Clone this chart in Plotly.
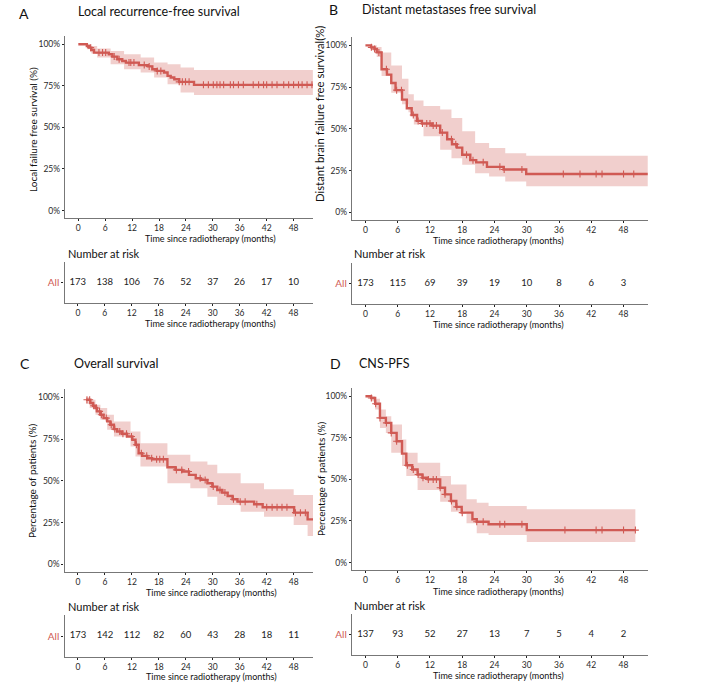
import numpy as np
import plotly.graph_objects as go

W, H = 716, 685
RED = '#D05A54'
BAND = 'rgba(214,110,104,0.33)'
FONT = 'Lato'

# ---------------- data ----------------
# Panel A: Local recurrence-free survival
times_A = [0, 1.9, 2.4, 2.9, 3.5, 6.8, 7.6, 8.7, 9.8, 10.6, 13.5, 15.5, 16.5, 17.5, 19.1, 19.9, 20.6, 21.4, 22.5, 25.8]
surv_A = [100, 99, 98, 96.6, 95, 94, 92.6, 91, 90, 89, 87.5, 86.7, 85, 84, 83, 81, 80, 79, 77.4, 75.6]
band_t_A = [0, 1.9, 2.9, 4.2, 7.2, 10.2, 13.9, 16.9, 19.9, 22.8, 25.8]
upper_A = [100, 100, 99, 97.5, 96, 94, 92, 89, 88, 86, 84.5]
lower_A = [100, 97, 94.5, 92, 88, 85, 83, 80, 76, 71, 69.5]
end_A = 52.3
cens_A = [2.75, 4.6, 5.4, 6.1, 8.0, 9.1, 11.3, 11.7, 12.4, 14.7, 15.8, 17.6, 18.4, 22.5, 23.2, 23.9, 24.7,
          27.9, 29.0, 30.1, 30.9, 31.6, 32.4, 33.9, 34.6, 35.7, 36.8, 39.0, 40.2, 41.3, 42.0, 43.2, 44.3,
          45.8, 46.9, 48.0, 49.1, 49.9, 51.0, 52.1]

# Panel B: Distant metastases free survival
times_B = [0, 1.05, 1.7, 2.1, 3.0, 4.0, 4.8, 5.6, 6.8, 7.7, 8.6, 9.6, 10.5, 12.4, 13.9, 15.2, 16.1, 17.0, 18.0, 19.5, 20.6, 22.6, 25.7, 29.9]
surv_B = [100, 98.8, 97.8, 95.8, 85.7, 82.5, 77.5, 73.2, 67.5, 62.4, 58.3, 54.8, 53.2, 52, 47.8, 43.8, 40.8, 38.8, 34.5, 31.3, 30, 27.3, 25.7, 23]
band_t_B = [0, 1.05, 2.1, 3.0, 4.8, 6.8, 8.0, 9.0, 10.8, 13.9, 16.0, 18.0, 20.4, 23.0, 26.0, 29.9]
upper_B = [100, 100, 99, 95.8, 88, 80, 70.7, 67, 63.7, 61.6, 56.6, 48.6, 41.6, 38.6, 35.5, 34]
lower_B = [100, 97, 93, 81.7, 71.7, 64.7, 60, 52.6, 45.6, 37.6, 32.5, 28.5, 23.5, 21.5, 18.5, 15.7]
end_B = 52.5
cens_B = [1.1, 1.7, 2.5, 3.9, 5.8, 6.7, 8.9, 9.8, 10.6, 11.4, 12.0, 12.6, 13.2, 14.3, 16.0, 16.8, 18.8,
          20.0, 21.9, 25.0, 25.8, 29.1, 36.8, 39.9, 42.9, 44.0, 48.0, 49.9]

# Panel C: Overall survival
times_C = [1.8, 2.75, 3.35, 3.9, 4.2, 5.0, 5.7, 6.5, 7.2, 8.0, 8.7, 9.8, 10.9, 12.1, 12.8, 13.5, 14.3, 15.4,
           16.5, 19.9, 21.7, 23.2, 24.7, 26.2, 27.3, 28.8, 29.9, 31.0, 32.1, 33.3, 34.4, 35.5, 39.2, 41.1, 48.1, 51.1]
surv_C = [98.6, 96.6, 95, 93.6, 91.6, 89.6, 87.6, 85.6, 83.6, 81, 79.6, 78.2, 76.6, 74.6, 71.6, 66.6, 65, 63.6,
          63, 58.2, 56.6, 55.6, 53.6, 51.6, 50.6, 48.6, 46.6, 44.6, 43, 41, 39, 37.6, 36, 34.2, 31, 27]
band_t_C = [1.8, 2.6, 3.9, 5.0, 6.5, 8.0, 11.7, 12.8, 13.9, 19.9, 25.0, 28.8, 31.0, 36.2, 41.4, 48.0, 51.1]
upper_C = [100, 98.6, 95.6, 93.6, 89.6, 85.6, 79.6, 79.6, 72.6, 65.6, 61.6, 59.6, 54.6, 48.6, 45, 41.6, 41.6]
lower_C = [96, 93.6, 89.6, 86.6, 80.6, 76.6, 70.6, 64.6, 58.6, 48.6, 45.6, 40.6, 35.6, 31.6, 28.6, 23.6, 17]
end_C = 52.3
cens_C = [2.0, 2.6, 3.5, 4.1, 4.8, 5.2, 6.3, 7.4, 8.2, 9.3, 10.0, 10.8, 11.9, 13.0, 14.1, 15.3, 16.4, 17.5,
          18.2, 19.0, 21.9, 23.1, 24.6, 27.2, 28.3, 30.1, 31.6, 32.7, 34.6, 36.1, 37.2, 39.8, 42.0, 43.2,
          44.3, 45.4, 46.5, 48.4, 49.5, 50.6]

# Panel D: CNS-PFS
times_D = [0, 1.05, 1.8, 2.7, 3.8, 4.8, 5.8, 6.8, 7.6, 8.7, 9.7, 10.6, 11.6, 13.9, 14.8, 15.9, 16.9, 17.9, 19.9, 20.7, 22.9, 30.0]
surv_D = [100, 99, 95.5, 87, 84, 78, 73, 65.5, 58.5, 56, 53, 51, 50, 45, 41, 37, 33.5, 30, 26, 24.5, 23, 19.5]
band_t_D = [0, 1.05, 1.8, 2.7, 3.8, 4.8, 6.8, 7.6, 9.7, 13.9, 15.9, 18.8, 20.7, 22.9, 30.0]
upper_D = [100, 100, 98.6, 92, 88, 83, 74, 66, 60, 52, 47, 38, 36, 34, 32]
lower_D = [100, 97, 92, 81, 78, 66, 58, 52, 43.6, 36.6, 30.6, 23.6, 17.6, 16.6, 12.3]
end_D = 50.2
cens_D = [1.1, 1.9, 2.7, 3.9, 4.8, 5.8, 7.8, 8.9, 9.8, 10.7, 11.7, 12.6, 13.2, 13.9, 14.8, 16.0, 17.0,
          18.0, 20.7, 21.9, 25.0, 25.9, 29.1, 37.1, 42.9, 44.0, 48.0, 50.2]

# Number at risk
risk_times = [0, 6, 12, 18, 24, 30, 36, 42, 48]
risk_A = [173, 138, 106, 76, 52, 37, 26, 17, 10]
risk_B = [173, 115, 69, 39, 19, 10, 8, 6, 3]
risk_C = [173, 142, 112, 82, 60, 43, 28, 18, 11]
risk_D = [137, 93, 52, 27, 13, 7, 5, 4, 2]

y_ticks = [0, 0.25, 0.5, 0.75, 1.0]
y_ticktext = ['0%', '25%', '50%', '75%', '100%']

panel_letters = ['A', 'B', 'C', 'D']
panel_titles = ['Local recurrence-free survival', 'Distant metastases free survival',
                'Overall survival', 'CNS-PFS']
y_titles = ['Local failure free survival (%)', 'Distant brain failure free survival(%)',
            'Percentage of patients (%)', 'Percentage of patients (%)']
x_title = 'Time since radiotherapy (months)'

# ---------------- helpers ----------------
def step_path(t, v, t_end):
    xs, ys = [], []
    for i in range(len(t)):
        nxt = t[i + 1] if i + 1 < len(t) else t_end
        xs += [t[i], nxt]
        ys += [v[i], v[i]]
    return xs, ys


def band_path(t, up, lo, t_end):
    xu, yu = step_path(t, up, t_end)
    xl, yl = step_path(t, lo, t_end)
    return xu + xl[::-1], [y / 100 for y in yu + yl[::-1]]


def surv_at(t, v, x):
    idx = int(np.searchsorted(np.array(t), x, side='right')) - 1
    return v[max(idx, 0)] / 100


# pixel boxes (left, top, right, bottom)
km_boxes = [(65, 36, 313, 218), (352, 37, 648, 220), (64.5, 389, 313, 572), (352, 388, 648, 570)]
risk_boxes = [(64.5, 262, 313, 303), (352, 263, 648, 304), (64.5, 615, 313, 657), (352, 614, 648, 655)]
x_ranges = [[-2.97, 52.33], [-2.5, 52.55], [-3.0, 52.3], [-2.5, 52.55]]


def dom_x(b):
    return [b[0] / W, b[2] / W]


def dom_y(b):
    return [1 - b[3] / H, 1 - b[1] / H]


panels = [
    (times_A, surv_A, band_t_A, upper_A, lower_A, end_A, cens_A, risk_A),
    (times_B, surv_B, band_t_B, upper_B, lower_B, end_B, cens_B, risk_B),
    (times_C, surv_C, band_t_C, upper_C, lower_C, end_C, cens_C, risk_C),
    (times_D, surv_D, band_t_D, upper_D, lower_D, end_D, cens_D, risk_D),
]

fig = go.Figure()
layout = dict(
    width=W, height=H, margin=dict(l=0, r=0, t=0, b=0),
    paper_bgcolor='white', plot_bgcolor='white', showlegend=False,
    font=dict(family=FONT, color='#222'),
)

axis_common = dict(showgrid=False, zeroline=False, showline=True, linecolor='#777', linewidth=1.4,
                   ticks='outside', ticklen=2, tickwidth=1.3, tickcolor='#222',
                   tickfont=dict(size=8.5, color='#2a2a2a', family=FONT), fixedrange=True)

for i, (t, s, bt, bu, bl, te, cens, risk) in enumerate(panels):
    k = i + 1
    xa = 'x' if k == 1 else f'x{k}'
    ya = 'y' if k == 1 else f'y{k}'
    bx, by = band_path(bt, bu, bl, te)
    fig.add_trace(go.Scatter(x=bx, y=by, fill='toself', fillcolor=BAND, line=dict(width=0),
                             mode='lines', hoverinfo='skip', xaxis=xa, yaxis=ya))
    sx, sy = step_path(t, s, te)
    fig.add_trace(go.Scatter(x=sx, y=[v / 100 for v in sy], mode='lines',
                             line=dict(color=RED, width=2.4), xaxis=xa, yaxis=ya))
    fig.add_trace(go.Scatter(x=cens, y=[surv_at(t, s, c) for c in cens], mode='markers',
                             marker=dict(symbol='cross-thin-open', size=5, color=RED,
                                         line=dict(color=RED, width=1.1)),
                             xaxis=xa, yaxis=ya))
    # risk table
    rk = k + 4
    rxa, rya = f'x{rk}', f'y{rk}'
    fig.add_trace(go.Scatter(x=risk_times, y=[1] * len(risk_times), mode='text',
                             text=[str(r) for r in risk], textfont=dict(size=9.5, color='#222', family=FONT),
                             xaxis=rxa, yaxis=rya))

    kb, rb = km_boxes[i], risk_boxes[i]
    layout['xaxis' if k == 1 else f'xaxis{k}'] = dict(
        axis_common, domain=dom_x(kb), range=x_ranges[i], tickvals=risk_times,
        anchor=ya)
    layout['yaxis' if k == 1 else f'yaxis{k}'] = dict(
        axis_common, domain=dom_y(kb), range=[-0.045, 1.05], tickvals=y_ticks, ticktext=y_ticktext,
        anchor=xa)
    layout[f'xaxis{rk}'] = dict(axis_common, domain=dom_x(rb), range=x_ranges[i], tickvals=risk_times,
                                anchor=rya)
    layout[f'yaxis{rk}'] = dict(axis_common, domain=dom_y(rb), range=[0, 2], tickvals=[1], ticktext=['All'],
                                tickfont=dict(size=10, color=RED, family=FONT), anchor=rxa)

fig.update_layout(**layout)

ann = []


def add_text(x, y, text, size, anchor='left', angle=0, color='#111'):
    ann.append(dict(x=x / W, y=1 - y / H, xref='paper', yref='paper', text=text, showarrow=False,
                    xanchor=anchor, yanchor='middle', textangle=angle,
                    font=dict(size=size, color=color, family=FONT)))


letter_pos = [(17, 13), (327, 10), (18, 363), (328, 363)]
title_pos = [(76, 11), (360, 10), (72, 363), (357, 363)]
ytitle_pos = [(33, 130), (320, 114), (32, 481), (321, 479)]
ytitle_size = [10, 11.3, 10, 10]
xtitle_km = [(210, 239), (498, 240), (211, 592), (498, 591)]
xtitle_risk = [(210, 323), (498, 324), (211, 676), (498, 675)]
nar_pos = [(66, 253), (352, 254), (66, 606), (352, 605)]

for i in range(4):
    add_text(*letter_pos[i], panel_letters[i], 14)
    add_text(*title_pos[i], panel_titles[i], 12.5)
    add_text(*ytitle_pos[i], y_titles[i], ytitle_size[i], anchor='center', angle=-90)
    add_text(*xtitle_km[i], x_title, 9, anchor='center')
    add_text(*xtitle_risk[i], x_title, 9, anchor='center')
    add_text(*nar_pos[i], 'Number at risk', 11)

fig.update_layout(annotations=ann)
fig.write_html('out.html')
